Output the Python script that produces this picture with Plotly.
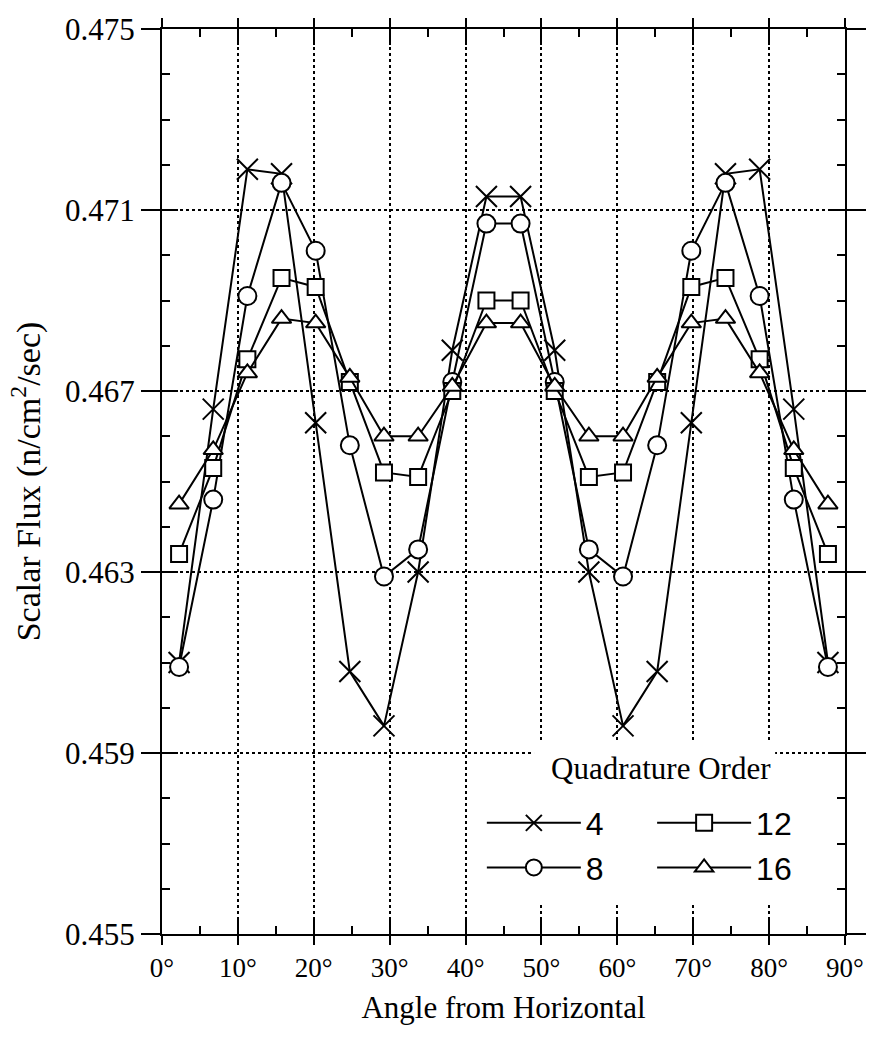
import plotly.graph_objects as go

# Angle of each quadrature direction (degrees from horizontal)
angles = [2.25, 6.75, 11.25, 15.75, 20.25, 24.75, 29.25, 33.75, 38.25, 42.75,
          47.25, 51.75, 56.25, 60.75, 65.25, 69.75, 74.25, 78.75, 83.25, 87.75]

# Scalar flux for each quadrature order
flux_4 = [0.4610, 0.4666, 0.4719, 0.4718, 0.4663, 0.4608, 0.4596, 0.4630, 0.4679, 0.4713,
          0.4713, 0.4679, 0.4630, 0.4596, 0.4608, 0.4663, 0.4718, 0.4719, 0.4666, 0.4610]
flux_8 = [0.4609, 0.4646, 0.4691, 0.4716, 0.4701, 0.4658, 0.4629, 0.4635, 0.4672, 0.4707,
          0.4707, 0.4672, 0.4635, 0.4629, 0.4658, 0.4701, 0.4716, 0.4691, 0.4646, 0.4609]
flux_12 = [0.4634, 0.4653, 0.4677, 0.4695, 0.4693, 0.4672, 0.4652, 0.4651, 0.4670, 0.4690,
           0.4690, 0.4670, 0.4651, 0.4652, 0.4672, 0.4693, 0.4695, 0.4677, 0.4653, 0.4634]
flux_16 = [0.4645, 0.4657, 0.4674, 0.4686, 0.4685, 0.4673, 0.4660, 0.4660, 0.4671, 0.4685,
           0.4685, 0.4671, 0.4660, 0.4660, 0.4673, 0.4685, 0.4686, 0.4674, 0.4657, 0.4645]

x_ticks = [0, 10, 20, 30, 40, 50, 60, 70, 80, 90]
x_tick_labels = ["0°", "10°", "20°", "30°", "40°", "50°", "60°", "70°", "80°", "90°"]
y_ticks = [0.455, 0.459, 0.463, 0.467, 0.471, 0.475]
y_tick_labels = ["0.455", "0.459", "0.463", "0.467", "0.471", "0.475"]

# name, values, marker symbol, marker size, legend column
series = [
    ("4", flux_4, "x-thin", 21, "legend"),
    ("8", flux_8, "circle", 18, "legend"),
    ("12", flux_12, "square", 16, "legend2"),
    ("16", flux_16, "triangle-up", 17, "legend2"),
]

SERIF = "Liberation Serif, Times New Roman, serif"
SANS = "Liberation Sans, Arial, sans-serif"

fig = go.Figure()
for name, vals, sym, size, leg in series:
    fig.add_trace(go.Scatter(
        x=angles, y=vals, name=name, mode="lines+markers",
        line=dict(color="black", width=2),
        marker=dict(symbol=sym, size=size, color="white",
                    line=dict(color="black", width=2)),
        legend=leg,
    ))

# Empty trace to create an overlay subplot carrying the outside ticks and labels
fig.add_trace(go.Scatter(x=[None], y=[None], xaxis="x2", yaxis="y2",
                         showlegend=False, hoverinfo="skip"))

x_range = [0, 90]
y_range = [0.455, 0.475]

legend_style = dict(
    orientation="v", xanchor="left", yanchor="top",
    bgcolor="rgba(0,0,0,0)", borderwidth=0,
    font=dict(family=SANS, size=32, color="black"),
    itemwidth=94, tracegroupgap=0, itemclick=False, itemdoubleclick=False,
)

fig.update_layout(
    width=878, height=1043,
    margin=dict(l=162, r=22, t=27, b=109),
    paper_bgcolor="white", plot_bgcolor="white",
    showlegend=True,
    xaxis=dict(
        range=x_range, tickvals=x_ticks, showticklabels=False,
        ticks="inside", ticklen=16, tickwidth=2, tickcolor="black",
        showline=True, linecolor="black", linewidth=2, mirror="allticks",
        showgrid=True, gridcolor="black", gridwidth=1.5, griddash="dot",
        zeroline=False,
        minor=dict(dtick=5, tick0=0, ticks="inside", ticklen=8, tickwidth=1.5,
                   tickcolor="black", showgrid=False),
    ),
    yaxis=dict(
        range=y_range, tickvals=y_ticks, showticklabels=False,
        ticks="inside", ticklen=16, tickwidth=2, tickcolor="black",
        showline=True, linecolor="black", linewidth=2, mirror="allticks",
        showgrid=True, gridcolor="black", gridwidth=1.5, griddash="dot",
        zeroline=False,
        minor=dict(dtick=0.001, tick0=0.455, ticks="inside", ticklen=8, tickwidth=1.5,
                   tickcolor="black", showgrid=False),
    ),
    xaxis2=dict(
        range=x_range, overlaying="x", anchor="y2", side="bottom",
        tickvals=x_ticks, ticktext=x_tick_labels,
        ticks="outside", ticklen=9, tickwidth=2, tickcolor="black",
        showline=True, linecolor="black", linewidth=2, mirror="allticks",
        showgrid=False, zeroline=False,
        tickfont=dict(family=SERIF, size=27, color="black"),
        title=dict(text="Angle from Horizontal", standoff=14,
                   font=dict(family=SERIF, size=31, color="black")),
    ),
    yaxis2=dict(
        range=y_range, overlaying="y", anchor="x2", side="left",
        tickvals=y_ticks, ticktext=y_tick_labels,
        ticks="outside", ticklen=19, tickwidth=2, tickcolor="black",
        showline=True, linecolor="black", linewidth=2, mirror="allticks",
        showgrid=False, zeroline=False,
        tickfont=dict(family=SERIF, size=31, color="black"),
        title=dict(text="Scalar Flux (n/cm<sup>2</sup>/sec)", standoff=14,
                   font=dict(family=SERIF, size=34, color="black")),
    ),
    legend=dict(x=0.4683, y=0.153, **legend_style),
    legend2=dict(x=0.7176, y=0.153, **legend_style),
    # white panels behind the legend that interrupt the grid
    shapes=[
        dict(type="rect", xref="paper", yref="paper", layer="above",
             x0=0.5447, x1=0.8977, y0=0.1477, y1=0.2117,
             fillcolor="white", line=dict(width=0)),
        dict(type="rect", xref="paper", yref="paper", layer="above",
             x0=0.4597, x1=0.9841, y0=0.0342, y1=0.1533,
             fillcolor="white", line=dict(width=0)),
    ],
    annotations=[dict(
        text="Quadrature Order", xref="paper", yref="paper",
        x=0.7305, y=0.183, xanchor="center", yanchor="middle", showarrow=False,
        font=dict(family=SERIF, size=31, color="black"),
    )],
)

fig.write_html("out.html")
